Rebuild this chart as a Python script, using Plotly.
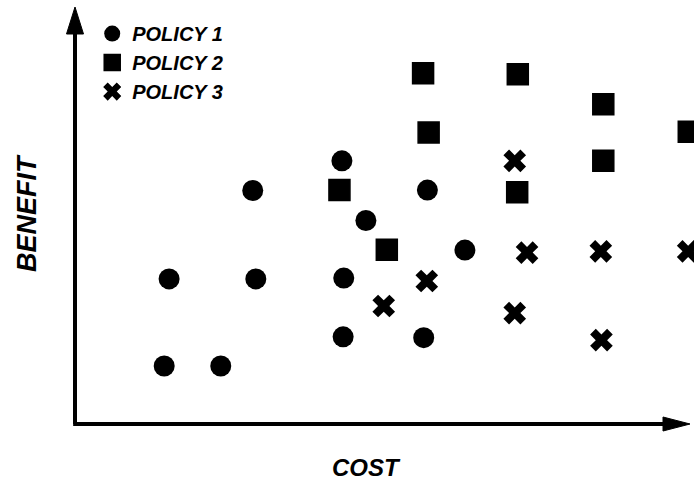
import plotly.graph_objects as go

# Data (arbitrary cost / benefit units)
p1_cost = [14.5, 23.7, 15.3, 29.4, 43.7, 28.9, 43.4, 57.3, 47.3, 63.4, 43.6, 56.7]
p1_benefit = [13.9, 13.9, 34.8, 34.8, 35.0, 56.0, 63.1, 56.1, 48.8, 41.7, 20.9, 20.7]

p2_cost = [56.6, 72.0, 85.9, 57.5, 99.8, 85.9, 43.0, 71.9, 50.7]
p2_benefit = [84.1, 83.9, 76.7, 69.9, 70.1, 63.1, 56.1, 55.6, 41.8]

p3_cost = [71.5, 73.5, 85.5, 99.7, 57.2, 50.2, 71.5, 85.6]
p3_benefit = [63.1, 41.1, 41.4, 41.4, 34.3, 28.3, 26.6, 20.1]

series_names = ["POLICY 1", "POLICY 2", "POLICY 3"]
x_title = "COST"
y_title = "BENEFIT"

FONT = dict(family="Liberation Sans, Arial, sans-serif", color="black",
            weight="bold", style="italic")

fig = go.Figure()
fig.add_trace(go.Scatter(x=p1_cost, y=p1_benefit, mode="markers", name=series_names[0],
                         marker=dict(symbol="circle", size=21, color="black"),
                         cliponaxis=False))
fig.add_trace(go.Scatter(x=p2_cost, y=p2_benefit, mode="markers", name=series_names[1],
                         marker=dict(symbol="square", size=21, color="black",
                                     line=dict(color="black", width=1.5)),
                         cliponaxis=False))
fig.add_trace(go.Scatter(x=p3_cost, y=p3_benefit, mode="markers", name=series_names[2],
                         marker=dict(symbol="x", size=20, color="black",
                                     line=dict(width=0)),
                         cliponaxis=False))

shapes = [
    # axis lines
    dict(type="line", xref="paper", yref="paper", x0=0, y0=0, x1=0, y1=0.95,
         line=dict(color="black", width=4)),
    dict(type="line", xref="paper", yref="paper", x0=-0.003, y0=0, x1=0.97, y1=0,
         line=dict(color="black", width=4)),
    # arrow heads
    dict(type="path", xref="paper", yref="paper", xsizemode="pixel", ysizemode="pixel",
         xanchor=0, yanchor=1, path="M -8.5,-27 L 0,0 L 8.5,-27 Z",
         fillcolor="black", line=dict(color="black", width=1)),
    dict(type="path", xref="paper", yref="paper", xsizemode="pixel", ysizemode="pixel",
         xanchor=1, yanchor=0, path="M -27,7 L 0,0 L -27,-7 Z",
         fillcolor="black", line=dict(color="black", width=1)),
]

annotations = [
    dict(text=x_title, xref="paper", yref="paper", x=(366 - 75) / 615, y=-43 / 417,
         showarrow=False, xanchor="center", yanchor="middle",
         font=dict(size=24, **FONT)),
    dict(text=y_title, xref="paper", yref="paper", x=-48 / 615, y=(424 - 213) / 417,
         showarrow=False, xanchor="center", yanchor="middle", textangle=-90,
         font=dict(size=27, **FONT)),
]

fig.update_layout(
    width=694, height=486,
    margin=dict(l=75, r=4, t=7, b=62),
    paper_bgcolor="white", plot_bgcolor="white",
    xaxis=dict(range=[0, 100], visible=False),
    yaxis=dict(range=[0, 100], visible=False),
    showlegend=True,
    legend=dict(x=0.028, y=0.983, xanchor="left", yanchor="top",
                bgcolor="rgba(0,0,0,0)", font=dict(size=20, **FONT),
                itemsizing="trace", tracegroupgap=0),
    shapes=shapes,
    annotations=annotations,
)

fig.write_html("out.html", config={"displayModeBar": False},
               post_script="document.body.style.margin='0';document.body.style.padding='0';")
